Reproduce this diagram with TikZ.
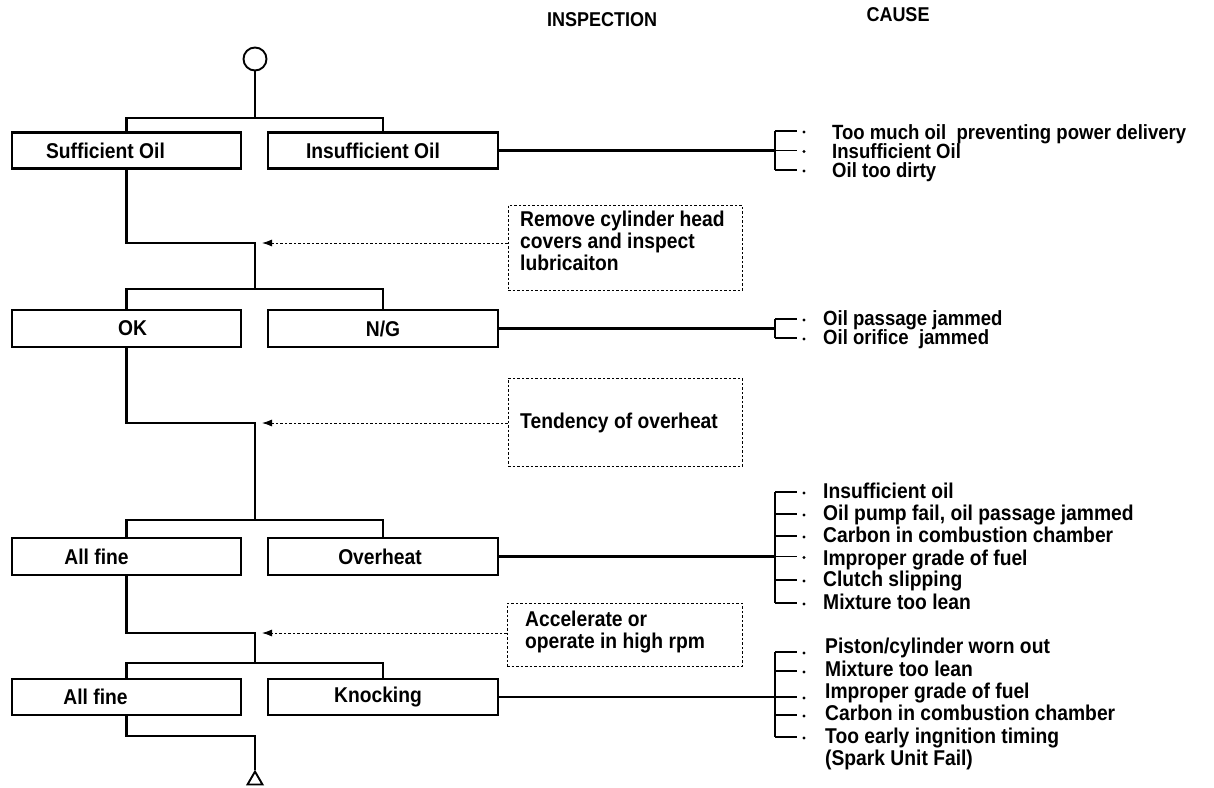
\documentclass[tikz,border=0pt]{standalone}
\usepackage{fontspec}
\setmainfont{Liberation Sans}[FakeStretch=0.9]
\usetikzlibrary{arrows.meta,calc,shapes.geometric}
\begin{document}
\begin{tikzpicture}[x=1pt,y=-1pt,
  every node/.style={font=\bfseries\fontsize{21.4}{22}\selectfont, inner sep=0pt},
  box/.style={draw, line width=2.2pt, minimum height=36pt},
  ln/.style={line width=2.2pt},
  bl/.style={line width=1.9pt},
  note/.style={draw, line width=0.9pt, dash pattern=on 2.5pt off 2pt},
  darr/.style={line width=0.9pt, dash pattern=on 2.5pt off 2pt, -{Latex[length=10pt,width=7pt]}},
  txt/.style={anchor=base west, align=left},
  tight/.style={txt, font=\bfseries\fontsize{20.6}{22}\selectfont},
  hdr/.style={font=\bfseries\fontsize{20}{22}\selectfont}]
\useasboundingbox (0,0) rectangle (1214,787);

% headers
\node[hdr] (hdrA) at (602,20) {INSPECTION};
\node[hdr] (hdrB) at (898,15) {CAUSE};

% start
\node[draw, circle, line width=1.9pt, minimum size=23pt] (start) at (255,59) {};

% row 1
\coordinate (j1) at (255,118);
\node[box, minimum width=229pt] (s1) at (126.5,150.5) {Sufficient Oil\hspace*{42pt}};
\node[box, minimum width=230pt] (i1) at (383,150.5) {Insufficient Oil\hspace*{20pt}};
\draw[ln] (start.south) -- (j1);
\draw[ln] (s1.north) |- (j1) -| (i1.north);

% note 1
\coordinate (c1) at (255,243);
\coordinate (j2) at (255,289);
\node[note, minimum width=234pt, minimum height=85pt] (n1) at (625,247.5) {};
\node[txt] (n1t) at (520,270) {Remove cylinder head\\covers and inspect\\lubricaiton};
\draw[ln] (s1.south) |- (c1) -- (j2);
\draw[darr] (n1.west |- c1) -- ([xshift=7pt]c1);

% row 2
\node[box, minimum width=229pt, minimum height=37pt] (ok) at (126.5,328.5) {\hspace*{12pt}OK};
\node[box, minimum width=230pt, minimum height=37pt] (ng) at (383,328.5) {N/G};
\draw[ln] (ok.north) |- (j2) -| (ng.north);

% note 2
\coordinate (c2) at (255,423);
\coordinate (j3) at (255,520);
\node[note, minimum width=234pt, minimum height=88pt] (n2) at (625,422) {};
\node[txt] (n2t) at (520,428) {Tendency of overheat};
\draw[ln] (ok.south) |- (c2) -- (j3);
\draw[darr] (n2.west |- c2) -- ([xshift=7pt]c2);

% row 3
\node[box, minimum width=229pt, minimum height=37pt] (af1) at (126.5,556.5) {All fine\hspace*{60pt}};
\node[box, minimum width=230pt, minimum height=37pt] (oh) at (383,556.5) {Overheat\hspace*{6pt}};
\draw[ln] (af1.north) |- (j3) -| (oh.north);

% note 3
\coordinate (c3) at (255,633);
\coordinate (j4) at (255,663);
\node[note, minimum width=235pt, minimum height=63pt] (n3) at (624.5,634.5) {};
\node[txt] (n3t) at (525,648) {Accelerate or\\operate in high rpm};
\draw[ln] (af1.south) |- (c3) -- (j4);
\draw[darr] (n3.west |- c3) -- ([xshift=7pt]c3);

% row 4
\node[box, minimum width=229pt] (af2) at (126.5,697) {All fine\hspace*{62pt}};
\node[box, minimum width=230pt] (kn) at (383,697) {Knocking\hspace*{10pt}};
\draw[ln] (af2.north) |- (j4) -| (kn.north);

% end
\coordinate (c4) at (255,736);
\node[draw, regular polygon, regular polygon sides=3, minimum size=17.3pt, line width=1.9pt] (stop) at (255,780.2) {};
\draw[ln] (af2.south) |- (c4) -- (stop.north);

% cause list 1
\coordinate (k1) at (775,150.5);
\draw[ln] (i1.east) -- (k1);
\draw[bl] (775,131) -- (775,170);
\foreach \y in {131,150.5,170} {\draw[bl] (775,\y) -- (797,\y); \fill (804,\y+1) circle (1.6pt);}
\node[tight] (r1a) at (832,139) {Too much oil\ \ preventing power delivery};
\node[tight] (r1b) at (832,158) {Insufficient Oil};
\node[tight] (r1c) at (832,177) {Oil too dirty};

% cause list 2
\coordinate (k2) at (775,328.5);
\draw[ln] (ng.east) -- (k2);
\draw[bl] (775,319) -- (775,338);
\foreach \y in {319,338} {\draw[bl] (775,\y) -- (797,\y); \fill (804,\y+1) circle (1.6pt);}
\node[tight] (r2a) at (823,325) {Oil passage jammed};
\node[tight] (r2b) at (823,344) {Oil orifice\ \ jammed};

% cause list 3
\coordinate (k3) at (775,556.5);
\draw[ln] (oh.east) -- (k3);
\draw[bl] (775,492) -- (775,603);
\foreach \y in {492,514,536,556.5,580,603} {\draw[bl] (775,\y) -- (797,\y); \fill (804,\y+1) circle (1.6pt);}
\node[txt] (r3a) at (823,498) {Insufficient oil};
\node[txt] (r3b) at (823,520) {Oil pump fail, oil passage jammed};
\node[txt] (r3c) at (823,542) {Carbon in combustion chamber};
\node[txt] (r3d) at (823,565) {Improper grade of fuel};
\node[txt] (r3e) at (823,586) {Clutch slipping};
\node[txt] (r3f) at (823,609) {Mixture too lean};

% cause list 4
\coordinate (k4) at (775,697);
\draw[ln] (kn.east) -- (k4);
\draw[bl] (775,652) -- (775,737);
\foreach \y in {652,671,697,715,737} {\draw[bl] (775,\y) -- (797,\y); \fill (804,\y+1) circle (1.6pt);}
\node[txt] (r4a) at (825,653) {Piston/cylinder worn out};
\node[txt] (r4b) at (825,676) {Mixture too lean};
\node[txt] (r4c) at (825,698) {Improper grade of fuel};
\node[txt] (r4d) at (825,720) {Carbon in combustion chamber};
\node[txt] (r4e) at (825,743) {Too early ingnition timing};
\node[txt] (r4f) at (825,765) {(Spark Unit Fail)};
\end{tikzpicture}
\end{document}
